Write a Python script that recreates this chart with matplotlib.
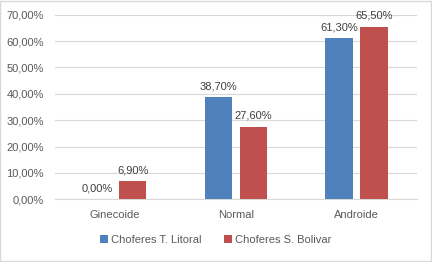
import matplotlib.pyplot as plt
import numpy as np
from matplotlib.ticker import FuncFormatter

categorias = ['Ginecoide', 'Normal', 'Androide']
litoral = [0.0, 38.7, 61.3]
bolivar = [6.9, 27.6, 65.5]
series = ['Choferes T. Litoral', 'Choferes S. Bolivar']
cores = ['#4F81BD', '#C0504D']

plt.rcParams['font.family'] = ['Liberation Sans', 'DejaVu Sans']
texto = '#595959'

fig = plt.figure(figsize=(4.32, 2.62), dpi=100)
ax = fig.add_axes([0.127, 0.239, 0.838, 0.705])

x = np.arange(len(categorias))
larg = 0.225
desl = 0.145
b1 = ax.bar(x - desl, litoral, larg, color=cores[0], label=series[0], zorder=3)
b2 = ax.bar(x + desl, bolivar, larg, color=cores[1], label=series[1], zorder=3)

def fmt(v):
    return f'{v:.2f}%'.replace('.', ',')

for barras, vals in ((b1, litoral), (b2, bolivar)):
    for r, v in zip(barras, vals):
        ax.annotate(fmt(v), (r.get_x() + r.get_width() / 2, v), xytext=(0, 4),
                    textcoords='offset points', ha='center', va='bottom',
                    fontsize=8, color='#404040')

ax.set_ylim(0, 70)
ax.set_xlim(-0.5, 2.5)
ax.set_yticks(np.arange(0, 71, 10))
ax.yaxis.set_major_formatter(FuncFormatter(lambda v, p: fmt(v)))
ax.set_xticks(x)
ax.set_xticklabels(categorias)
ax.tick_params(axis='both', length=0, labelsize=8, colors=texto)
ax.tick_params(axis='x', pad=8)
ax.tick_params(axis='y', pad=8)
ax.grid(axis='y', color='#D9D9D9', linewidth=0.8, zorder=0)
for s in ('top', 'right', 'left'):
    ax.spines[s].set_visible(False)
ax.spines['bottom'].set_color('#D9D9D9')

leg = fig.legend(loc='center', bbox_to_anchor=(0.5, 0.084), ncol=2, frameon=False,
                 fontsize=8, handlelength=0.7, handleheight=0.7, handletextpad=0.3,
                 columnspacing=2.0)
for t in leg.get_texts():
    t.set_color(texto)

fig.patches.append(plt.Rectangle((0.001, 0.002), 0.997, 0.995, transform=fig.transFigure,
                                 fill=False, edgecolor='#D9D9D9', linewidth=1))

fig.savefig('out.png', dpi=100)
